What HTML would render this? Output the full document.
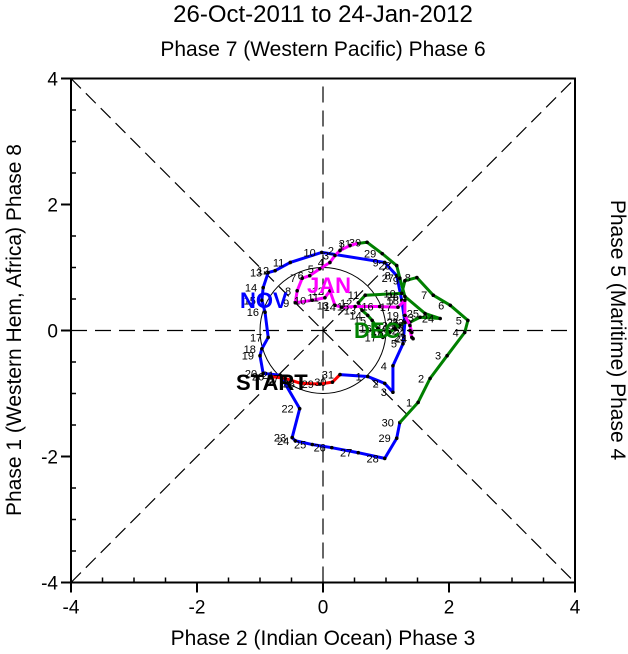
<!DOCTYPE html>
<html><head><meta charset="utf-8"><style>
body{margin:0;background:#fff}
svg{display:block;font-family:"Liberation Sans",sans-serif}
</style></head><body>
<svg id="chart" width="628" height="654" viewBox="0 0 628 654" xmlns="http://www.w3.org/2000/svg">
<text x="323" y="22" text-anchor="middle" font-size="24">26-Oct-2011 to 24-Jan-2012</text>
<text x="323" y="56" text-anchor="middle" font-size="21">Phase 7 (Western Pacific) Phase 6</text>
<text x="323" y="645" text-anchor="middle" font-size="21">Phase 2 (Indian Ocean) Phase 3</text>
<text transform="translate(21,330) rotate(-90)" text-anchor="middle" font-size="21">Phase 1 (Western Hem, Africa) Phase 8</text>
<text transform="translate(611,330) rotate(90)" text-anchor="middle" font-size="21">Phase 5 (Maritime) Phase 4</text>
<g id="plot"></g>
</svg>
<script>
const ticks=[-4,-2,0,2,4];
const minorTicks=[-3.5,-3,-2.5,-1.5,-1,-0.5,0.5,1,1.5,2.5,3,3.5];
const octDays=[26,27,28,29,30,31];
const octX=[-0.84,-0.6,-0.35,-0.05,0.15,0.27];
const octY=[-0.73,-0.76,-0.84,-0.85,-0.82,-0.70];
const novX=[0.71,0.98,1.11,1.11,1.27,1.30,1.25,1.17,0.98,-0.02,-0.52,-0.76,-0.87,-0.95,-0.97,-0.92,-0.87,-0.97,-1.0,-0.95,-0.68,-0.37,-0.49,-0.44,-0.17,0.14,0.56,0.98,1.17,1.22];
const novY=[-0.73,-0.84,-0.98,-0.56,-0.21,0.13,0.48,0.87,1.08,1.24,1.08,0.95,0.92,0.68,0.48,0.29,-0.11,-0.29,-0.40,-0.68,-0.71,-1.24,-1.70,-1.75,-1.81,-1.86,-1.94,-2.03,-1.71,-1.46];
const decX=[1.51,1.70,1.97,2.25,2.30,2.02,1.75,1.49,1.30,1.25,0.67,0.56,0.62,0.71,0.78,0.87,0.95,1.06,1.14,1.22,1.30,1.38,1.54,1.86,1.62,1.30,1.22,1.17,0.94,0.70,0.54];
const decY=[-1.14,-0.76,-0.40,-0.03,0.16,0.40,0.56,0.84,0.79,0.59,0.56,0.44,0.32,0.24,0.16,0.03,-0.11,-0.03,0.03,0.08,0.13,0.13,0.21,0.19,0.27,0.54,0.83,1.03,1.22,1.40,1.38];
const janX=[0.43,0.27,0.19,0.11,-0.05,-0.21,-0.33,-0.41,-0.44,-0.17,0.03,0.11,0.19,0.30,0.51,0.90,1.19,1.30,1.30,1.38,1.41,1.38,1.41,1.43];
const janY=[1.35,1.27,1.19,1.08,0.98,0.87,0.83,0.63,0.44,0.48,0.52,0.63,0.40,0.37,0.38,0.38,0.37,0.48,0.24,0.08,-0.03,0.0,-0.11,-0.13];
const NS="http://www.w3.org/2000/svg";
const L=71,R=575,T=78.5,B=582.5;
const sx=v=>L+(v+4)/8*(R-L);
const sy=v=>B-(v+4)/8*(B-T);
const g=document.getElementById('plot');
function mk(tag,attrs,parent){const e=document.createElementNS(NS,tag);for(const k in attrs)e.setAttribute(k,attrs[k]);(parent||g).appendChild(e);return e;}
let e;
e=mk('line',{x1:sx(-4),y1:sy(-4),x2:sx(4),y2:sy(4),stroke:'#000','stroke-dasharray':'14,7','stroke-width':1.2});


e=mk('line',{x1:sx(-4),y1:sy(4),x2:sx(4),y2:sy(-4),stroke:'#000','stroke-dasharray':'14,7','stroke-width':1.2});


e=mk('line',{x1:sx(0),y1:sy(-4),x2:sx(0),y2:sy(4),stroke:'#000','stroke-dasharray':'16,8','stroke-width':1.2});


e=mk('line',{x1:sx(-4),y1:sy(0),x2:sx(4),y2:sy(0),stroke:'#000','stroke-dasharray':'16,8','stroke-width':1.2});


e=mk('circle',{cx:sx(0),cy:sy(0),r:sx(1)-sx(0),fill:'none',stroke:'#000','stroke-width':1});


e=mk('rect',{x:L,y:T,width:R-L,height:B-T,fill:'none',stroke:'#000','stroke-width':2});


ticks.forEach(t=>{
 let a=mk('line',{x1:sx(t),y1:B,x2:sx(t),y2:B+10,stroke:'#000','stroke-width':2});
 
 
 a=mk('line',{x1:L-10,y1:sy(t),x2:L,y2:sy(t),stroke:'#000','stroke-width':2});
 
 
 a=mk('text',{x:sx(t),y:B+31,'text-anchor':'middle','font-size':19});a.textContent=t;
 
 
 a=mk('text',{x:L-13,y:sy(t)+7,'text-anchor':'end','font-size':19});a.textContent=t;
 
 
});
minorTicks.forEach(t=>{
 let a=mk('line',{x1:sx(t),y1:B,x2:sx(t),y2:B-5,stroke:'#000','stroke-width':1.5});
 
 
 a=mk('line',{x1:L,y1:sy(t),x2:L+5,y2:sy(t),stroke:'#000','stroke-width':1.5});
 
 
});
function series(xs,ys,days,color,name,prev){
 let px=xs.slice(),py=ys.slice();
 if(prev){px.unshift(prev[0]);py.unshift(prev[1]);}
 const pts=px.map((v,i)=>sx(v)+','+sy(py[i])).join(' ');
 let p=mk('polyline',{points:pts,fill:'none',stroke:color,'stroke-width':3,'stroke-linejoin':'round'});
 
 
 xs.forEach((v,i)=>{
  let c=mk('circle',{cx:sx(v),cy:sy(ys[i]),r:1.8,fill:'#000'});
  
  
  let t=mk('text',{x:sx(v)-6,y:sy(ys[i])+4,'text-anchor':'end','font-size':11});
  t.textContent=days[i];
  
  
 });
}
const seq=n=>Array.from({length:n},(_,i)=>i+1);
series(novX,novY,seq(30),'#0000ff','nov',[octX[5],octY[5]]);
series(decX,decY,seq(31),'#008000','dec',[novX[29],novY[29]]);
series(janX,janY,seq(24),'#ff00ff','jan',[decX[30],decY[30]]);
series(octX,octY,octDays,'#ff0000','oct',null);
function lab(txt,x,y,color,name){let t=mk('text',{x:x,y:y,'font-size':22,'font-weight':'bold',fill:color});t.textContent=txt;
 
 }
lab('NOV',240,308,'#0000ff','nov-label');
lab('JAN',307,293,'#ff00ff','jan-label');
lab('DEC',354,338,'#008000','dec-label');
lab('START',236,390,'#000','start-label');
</script>
</body></html>
